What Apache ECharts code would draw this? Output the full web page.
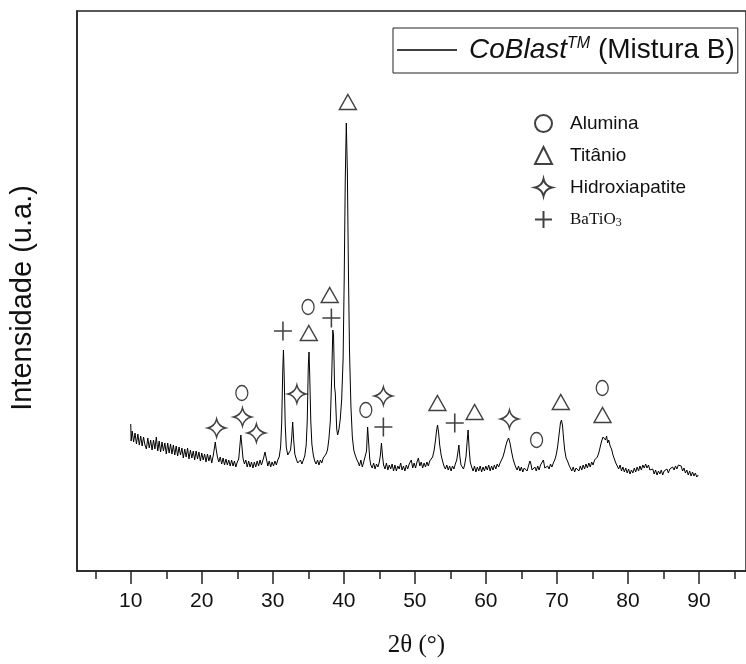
<!DOCTYPE html>
<html>
<head>
<meta charset="utf-8">
<script src="https://cdn.jsdelivr.net/npm/echarts@6/dist/echarts.min.js"></script>
<style>
html,body{margin:0;padding:0;background:#fff;}
#chart{width:746px;height:664px;}
</style>
</head>
<body>
<div id="chart"></div>
<script>
// XRD pattern: [2theta (deg), intensity (a.u.)]
const pattern = [
[10.0,147],[10.05,130],[10.2,140],[10.4,129],[10.6,138],[10.8,127],[11.0,137],[11.2,126],[11.4,135],[11.6,125],
[11.8,134],[12.0,126],[12.2,122],[12.4,133],[12.6,123],[12.8,131],[13.0,121],[13.2,131],[13.4,122],[13.6,134],
[13.8,120],[14.0,130],[14.2,119],[14.4,129],[14.6,120],[14.8,128],[15.0,117],[15.2,128],[15.4,118],[15.6,127],
[15.8,117],[16.0,126],[16.2,116],[16.4,125],[16.6,115],[16.8,124],[17.0,116],[17.2,123],[17.4,113],[17.6,122],
[17.8,114],[18.0,123],[18.2,112],[18.4,121],[18.6,113],[18.8,120],[19.0,111],[19.2,120],[19.4,112],[19.6,119],
[19.8,110],[20.0,118],[20.2,111],[20.4,117],[20.6,109],[20.8,117],[21.0,110],[21.2,116],[21.4,108],[21.6,115],
[21.8,124],[21.9,129],[22.0,123],[22.2,114],[22.4,109],[22.6,114],[22.8,107],[23.0,113],[23.2,106],[23.4,112],
[23.6,106],[23.8,111],[24.0,105],[24.2,111],[24.4,105],[24.6,110],[24.8,104],[25.0,109],[25.2,112],[25.35,124],
[25.5,136],[25.65,125],[25.8,113],[26.0,107],[26.2,111],[26.4,104],[26.6,110],[26.8,104],[27.0,109],[27.2,103],
[27.4,109],[27.6,104],[27.8,110],[28.0,105],[28.2,111],[28.4,106],[28.7,113],[28.9,119],[29.1,112],[29.3,105],
[29.5,110],[29.7,104],[29.9,109],[30.1,105],[30.3,110],[30.5,106],[30.7,111],[30.9,114],[31.1,124],[31.25,148],
[31.4,200],[31.5,221],[31.6,196],[31.75,146],[31.9,124],[32.1,116],[32.3,118],[32.5,121],[32.65,132],[32.8,149],
[32.95,130],[33.1,117],[33.3,112],[33.5,108],[33.7,106],[33.9,111],[34.1,107],[34.3,111],[34.5,115],[34.7,126],
[34.85,150],[35.0,205],[35.1,219],[35.2,196],[35.35,150],[35.5,127],[35.7,116],[35.9,110],[36.1,107],[36.3,111],
[36.5,106],[36.7,111],[36.9,108],[37.1,113],[37.3,111],[37.5,117],[37.7,121],[37.9,132],[38.1,150],[38.3,195],
[38.45,241],[38.55,236],[38.7,184],[38.8,178],[38.9,160],[39.0,142],[39.13,136],[39.3,141],[39.5,152],[39.7,172],
[39.9,212],[40.05,290],[40.2,390],[40.35,448],[40.5,400],[40.65,300],[40.8,220],[41.0,165],[41.2,134],[41.4,121],
[41.6,116],[41.8,112],[42.0,109],[42.2,105],[42.4,111],[42.6,104],[42.8,109],[43.0,110],[43.2,120],[43.35,144],
[43.5,128],[43.65,112],[43.8,106],[44.0,103],[44.2,108],[44.4,102],[44.6,107],[44.8,104],[45.0,109],[45.15,116],
[45.3,128],[45.45,115],[45.6,106],[45.8,102],[46.0,108],[46.2,101],[46.4,106],[46.6,102],[46.8,107],[47.0,100],
[47.2,106],[47.4,100],[47.6,105],[47.8,102],[48.0,108],[48.2,101],[48.4,105],[48.6,100],[48.8,106],[49.0,102],
[49.2,107],[49.5,111],[49.7,103],[49.9,108],[50.1,103],[50.3,109],[50.5,113],[50.7,105],[50.9,109],[51.1,103],
[51.3,108],[51.5,104],[51.7,109],[51.9,105],[52.1,110],[52.3,109],[52.5,114],[52.7,120],[52.9,130],[53.05,140],
[53.2,146],[53.35,138],[53.5,126],[53.7,116],[53.9,110],[54.1,105],[54.3,102],[54.5,106],[54.7,101],[54.9,105],
[55.1,100],[55.3,105],[55.5,102],[55.7,107],[55.9,111],[56.05,118],[56.2,126],[56.35,114],[56.5,106],[56.7,104],
[56.85,102],[57.0,106],[57.2,114],[57.35,128],[57.5,141],[57.65,122],[57.8,109],[58.0,104],[58.2,100],[58.4,105],
[58.6,99],[58.8,104],[59.0,100],[59.2,105],[59.4,99],[59.6,104],[59.8,100],[60.0,105],[60.2,101],[60.4,106],
[60.6,100],[60.8,105],[61.0,101],[61.2,106],[61.4,102],[61.6,107],[61.8,104],[62.0,108],[62.2,110],[62.4,114],
[62.6,119],[62.8,125],[63.0,130],[63.2,133],[63.4,128],[63.6,120],[63.8,113],[64.0,108],[64.2,104],[64.4,101],
[64.6,105],[64.8,100],[65.0,104],[65.2,99],[65.4,103],[65.6,105],[65.8,100],[66.0,105],[66.2,110],[66.35,107],
[66.5,101],[66.7,99],[66.9,104],[67.1,100],[67.3,105],[67.5,101],[67.7,106],[67.9,107],[68.1,111],[68.3,103],
[68.5,101],[68.7,105],[68.9,102],[69.1,107],[69.3,104],[69.5,108],[69.7,111],[69.9,116],[70.1,124],[70.3,136],
[70.5,148],[70.65,151],[70.8,145],[70.95,132],[71.1,121],[71.3,113],[71.5,110],[71.7,106],[71.9,105],[72.1,100],
[72.3,104],[72.5,99],[72.7,103],[72.9,105],[73.1,100],[73.3,105],[73.5,101],[73.7,106],[73.9,102],[74.1,107],
[74.3,103],[74.5,108],[74.7,104],[74.9,109],[75.1,106],[75.3,111],[75.5,109],[75.7,114],[75.9,118],[76.1,124],
[76.3,130],[76.5,134],[76.7,136],[76.85,131],[77.0,135],[77.15,128],[77.3,131],[77.5,125],[77.7,122],[77.9,116],
[78.1,114],[78.3,108],[78.5,107],[78.7,102],[78.9,106],[79.1,100],[79.3,104],[79.5,99],[79.7,103],[79.9,98],
[80.1,102],[80.3,97],[80.5,101],[80.7,98],[80.9,103],[81.1,99],[81.3,104],[81.5,100],[81.7,105],[81.9,101],
[82.1,106],[82.3,103],[82.5,107],[82.7,103],[82.9,106],[83.1,101],[83.3,100],[83.5,102],[83.7,97],[83.9,101],
[84.1,96],[84.3,100],[84.5,97],[84.7,101],[84.9,96],[85.1,100],[85.3,98],[85.5,102],[85.7,98],[85.9,102],
[86.1,100],[86.3,104],[86.5,101],[86.7,105],[86.9,102],[87.1,106],[87.3,104],[87.5,105],[87.7,100],[87.9,103],
[88.1,98],[88.3,101],[88.5,96],[88.7,100],[88.9,95],[89.1,99],[89.3,95],[89.5,98],[89.7,94],[89.9,96]
];

// Phase annotation markers: [2theta, intensity position]
const alumina = [[34.97,264],[25.64,178],[43.10,161],[67.14,131],[76.39,183]];
const titanio = [[40.57,469],[38.01,276],[35.07,238],[53.18,168],[58.42,159],[70.55,169],[76.43,156]];
const hidroxiapatite = [[22.09,143],[25.73,154],[27.69,138],[33.39,177],[45.57,175],[63.32,152]];
const batio3 = [[31.43,240],[38.25,253],[45.57,144],[55.62,148]];

const majorTicks = [10,20,30,40,50,60,70,80,90];
const minorTicks = [5,15,25,35,45,55,65,75,85,95];

const seriesName = 'CoBlast';
const phaseNames = ['Alumina','Titânio','Hidroxiapatite','BaTiO3'];

const starPath = 'path://M0,-10 Q1.8,-1.8 10,0 Q1.8,1.8 0,10 Q-1.8,1.8 -10,0 Q-1.8,-1.8 0,-10 Z';
const plusPath = 'path://M0,-10 L0,10 M-10,0 L10,0';

const hollow = {color:'rgba(0,0,0,0)', borderColor:'#111', borderWidth:1.4};
const sans = 'Liberation Sans, Arial, sans-serif';
const serif = 'Liberation Serif, Times New Roman, serif';

const chart = echarts.init(document.getElementById('chart'), null, {renderer:'canvas'});
chart.setOption({
  animation:false,
  backgroundColor:'#fff',
  grid:{left:77, top:11, right:-3, bottom:93, show:true, borderColor:'#222', borderWidth:1.5, containLabel:false},
  xAxis:[{
    type:'value', min:2.43, max:96.63,
    axisLine:{show:true, lineStyle:{color:'#222', width:1.5}},
    axisTick:{show:true, customValues:majorTicks, length:13, lineStyle:{color:'#222', width:1.5}},
    axisLabel:{show:true, customValues:majorTicks, margin:20, fontSize:21, color:'#111', fontFamily:sans},
    splitLine:{show:false},
    name:'2θ (°)', nameLocation:'middle', nameGap:62,
    nameTextStyle:{fontSize:25, color:'#111', fontFamily:serif, padding:[0,0,0,10]}
  },{
    type:'value', min:2.43, max:96.63, position:'bottom',
    axisLine:{show:false},
    axisTick:{show:true, customValues:minorTicks, length:8, lineStyle:{color:'#222', width:1.5}},
    axisLabel:{show:false}, splitLine:{show:false}
  }],
  yAxis:{
    type:'value', min:0, max:560,
    axisLine:{show:true, lineStyle:{color:'#222', width:1.5}},
    axisTick:{show:false}, axisLabel:{show:false}, splitLine:{show:false},
    name:'Intensidade (u.a.)', nameLocation:'middle', nameGap:40, nameRotate:90,
    nameTextStyle:{fontSize:29, color:'#111', fontFamily:sans, padding:[0,14,0,0]}
  },
  legend:[{
    data:[{name:seriesName, icon:'rect'}], left:393, top:28, orient:'horizontal',
    padding:[8,3,9,4], borderColor:'#222', borderWidth:1, backgroundColor:'#fff',
    itemWidth:60, itemHeight:1.3,
    itemStyle:{color:'#000'},
    formatter:function(){ return '{g|}{i|CoBlast}{s|TM}{n| (Mistura B)}'; },
    textStyle:{
      color:'#111', fontSize:28, fontFamily:sans,
      rich:{
        g:{width:7},
        i:{fontStyle:'italic', fontSize:28, fontFamily:sans, color:'#111'},
        s:{fontStyle:'italic', fontSize:16, fontFamily:sans, color:'#111', verticalAlign:'top', padding:[0,0,12,0]},
        n:{fontSize:28, fontFamily:sans, color:'#111'}
      }
    }
  },{
    data:phaseNames, left:529, top:109, orient:'vertical',
    itemWidth:17, itemHeight:17, itemGap:13,
    formatter:function(name){
      if(name==='BaTiO3') return '{g|}{t|BaTiO}{sub|3}';
      return '{g|}{a|'+name+'}';
    },
    textStyle:{
      color:'#111', fontSize:19,
      rich:{
        g:{width:13},
        a:{fontSize:19, fontFamily:sans, color:'#111'},
        t:{fontSize:17, fontFamily:serif, color:'#111'},
        sub:{fontSize:12, fontFamily:serif, color:'#111', verticalAlign:'bottom', padding:[6,0,0,0]}
      }
    }
  }],
  series:[{
    name:seriesName, type:'line', data:pattern, showSymbol:false, symbol:'none',
    lineStyle:{color:'#000', width:1}, itemStyle:{color:'#000'}, z:2
  },{
    name:'Alumina', type:'scatter', data:alumina, symbol:'circle', symbolSize:[12,15],
    itemStyle:hollow, z:3
  },{
    name:'Titânio', type:'scatter', data:titanio, symbol:'triangle', symbolSize:[17,15],
    itemStyle:hollow, z:3
  },{
    name:'Hidroxiapatite', type:'scatter', data:hidroxiapatite, symbol:starPath, symbolSize:[18,18],
    itemStyle:hollow, z:3
  },{
    name:'BaTiO3', type:'scatter', data:batio3, symbol:plusPath, symbolSize:[18,19],
    itemStyle:{color:'rgba(0,0,0,0)', borderColor:'#111', borderWidth:1.6}, z:3
  }]
});
</script>
</body>
</html>
